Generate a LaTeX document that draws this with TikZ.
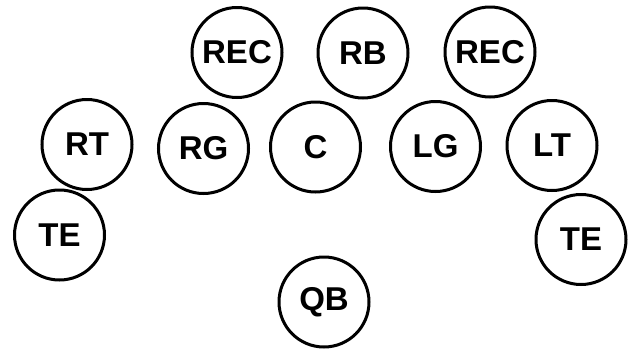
\documentclass[tikz,border=0pt]{standalone}
\usepackage{fontspec}
\setmainfont{Liberation Sans}
\begin{document}
\begin{tikzpicture}[x=1pt,y=-1pt,
  player/.style={circle,draw=black,line width=3pt,minimum size=90pt,inner sep=0pt,
    font=\fontsize{33}{37}\selectfont\bfseries}]
\useasboundingbox (0,0) rectangle (635,349);
\node[player] (recl) at (237,52.5) {REC};
\node[player] (rb) at (363,53) {RB};
\node[player] (recr) at (490,52) {REC};
\node[player] (rt) at (87,144.5) {RT};
\node[player] (rg) at (203.5,148.5) {RG};
\node[player] (c) at (315.5,147) {C};
\node[player] (lg) at (435.5,146.5) {LG};
\node[player] (lt) at (552,145.5) {LT};
\node[player] (tel) at (59.5,235) {TE};
\node[player] (ter) at (581,239.5) {TE};
\node[player] (qb) at (324,302) {QB};
\end{tikzpicture}
\end{document}
